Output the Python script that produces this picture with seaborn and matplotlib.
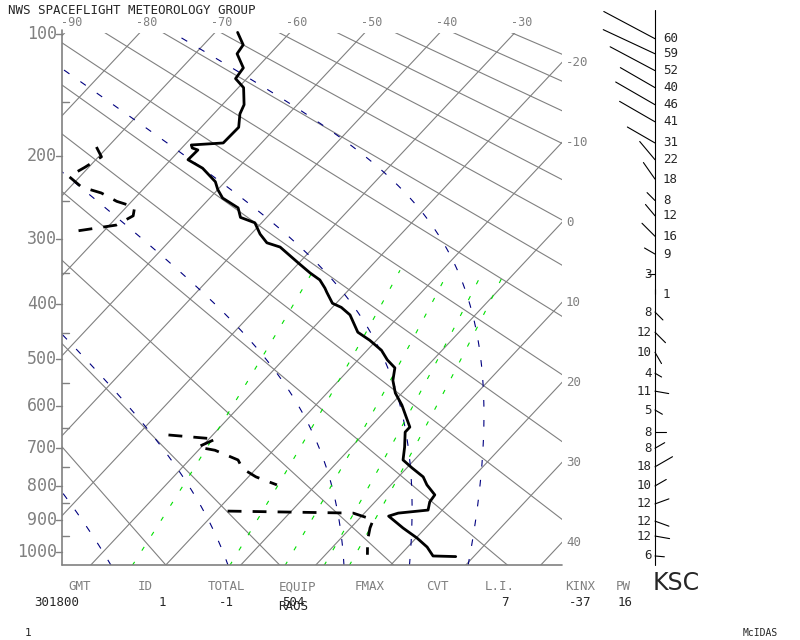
import numpy as np
import pandas as pd
import matplotlib
matplotlib.use("Agg")
import matplotlib.pyplot as plt
import seaborn as sns

sns.set_style("white")
plt.rcParams["font.family"] = ["DejaVu Sans Mono", "DejaVu Sans"]

# sounding (hPa, degC)
temp_p = [99, 107, 113, 123, 131, 138, 152, 160, 172, 187, 189, 192, 194, 204, 213, 228, 237, 247,
          259, 271, 278, 293, 305, 311, 334, 349, 360, 373, 380, 398, 405, 418, 449, 464, 483, 502,
          518, 544, 571, 598, 649, 661, 698, 731, 752, 776, 798, 826, 846, 870, 879, 888, 909, 924,
          955, 984, 1013, 1015]
temp_t = [-67.0, -64.7, -64.4, -61.8, -61.5, -59.3, -57.1, -56.5, -55.0, -55.1, -59.1, -58.6, -57.6,
          -57.7, -54.7, -51.3, -50.0, -48.3, -45.0, -43.5, -40.9, -38.8, -36.8, -34.5, -30.1, -27.3,
          -25.1, -23.4, -22.6, -20.5, -18.8, -16.7, -13.5, -10.9, -8.1, -6.1, -4.1, -2.8, -0.9, 1.5,
          5.3, 5.3, 7.1, 8.5, 10.7, 13.3, 14.8, 17.1, 17.3, 18.1, 14.5, 13.6, 15.6, 17.0, 20.1, 22.6,
          24.5, 27.6]
dew_p = [191, 201, 212, 222, 234, 241, 251, 258, 269, 281, 285, 289, np.nan,
         668, 678, 698, 706, 731, 754, 776, 798, np.nan,
         873, 879, 899, 924, 962, 1009]
dew_t = [-71.5, -69.6, -70.5, -71.5, -68.5, -65.1, -62.0, -58.9, -58.0, -59.1, -61.4, -63.7, np.nan,
         -25.9, -19.1, -20.5, -17.8, -13.5, -11.8, -9.0, -5.2, np.nan,
         -8.5, 8.5, 12.0, 12.6, 13.8, 15.6]

# winds
wind_p = [103, 113, 125, 138, 152, 167, 187, 204, 225, 250, 269, 296, 321, 351, 383,
          413, 449, 487, 529, 567, 609, 661, 701, 749, 801, 852, 903, 949, 1013]
wind_spd = [60, 59, 52, 40, 46, 41, 31, 22, 18, 8, 12, 16, 9, 3, 1,
            8, 12, 10, 4, 11, 5, 8, 8, 18, 10, 12, 12, 12, 6]
wind_dir = [298, 295, 298, 300, 300, 300, 300, 320, 325, 315, 320, 315, 300, 270, 0,
            135, 135, 150, 120, 100, 120, 90, 60, 60, 60, 70, 110, 100, 95]
wind_side = ["R"] * 13 + ["L", "R"] + ["L"] * 14

isotherms = np.arange(-150, 60, 10)
dry_theta = np.arange(200, 560, 15)
moist_t0 = [-20, -4, 12, 21, 29]
mix_ratio = [1.2, 3.3, 5.6, 8, 10]

p_labels = [100, 200, 300, 400, 500, 600, 700, 800, 900, 1000]
p_minor = [150, 250, 350, 450, 550, 650, 750, 850, 950]
top_t_labels = [-90, -80, -70, -60, -50, -40, -30]
right_t_labels = [-20, -10, 0, 10, 20, 30, 40]
stat_names = ["GMT", "ID", "TOTAL", "EQUIP", "FMAX", "CVT", "L.I.", "KINX", "PW"]
stat_x = [80, 145, 226, 297, 370, 437, 500, 580, 623]
stat_vals = [("301800", 57), ("1", 162), ("-1", 226), ("504", 293), ("RAOS", 293),
             ("7", 505), ("-37", 580), ("16", 625)]

KAP = 0.286
X_LEFT, X_RIGHT, Y_TOP, Y_BOT = 62, 562, 33, 565


def py(p):
    p = np.asarray(p, dtype=float)
    return 34 + 518 * (p ** KAP - 100 ** KAP) / (1000 ** KAP - 100 ** KAP)


def px(t, p):
    return 253 + 7.5 * np.asarray(t, dtype=float) + 0.9375 * (552 - py(p))


def moist_adiabat(t0, p_levels):
    Rd, Cp, Lv, eps = 287.0, 1004.0, 2.5e6, 0.622
    T = t0 + 273.15
    out = [T]
    for i in range(1, len(p_levels)):
        p = p_levels[i - 1]
        es = 6.112 * np.exp(17.67 * (T - 273.15) / (T - 29.65))
        rs = eps * es / (p - es)
        dTdp = (Rd * T + Lv * rs) / (p * (Cp + Lv * Lv * rs * eps / (Rd * T * T)))
        T = T + dTdp * (p_levels[i] - p)
        out.append(T)
    return np.array(out) - 273.15


fig = plt.figure(figsize=(8, 6.4), dpi=100)
ax = fig.add_axes([0, 0, 1, 1])
clip = plt.Rectangle((X_LEFT, Y_TOP), X_RIGHT - X_LEFT, Y_BOT - Y_TOP, transform=ax.transData,
                     fill=False, visible=False)
ax.add_patch(clip)

GRAY = "#808080"
pp = np.linspace(1045, 95, 200)
for t in isotherms:
    ln, = ax.plot(px(np.full_like(pp, t), pp), py(pp), color=GRAY, lw=0.8)
    ln.set_clip_path(clip)
for th in dry_theta:
    tt = th * (pp / 1000) ** KAP - 273.15
    ln, = ax.plot(px(tt, pp), py(pp), color=GRAY, lw=0.8)
    ln.set_clip_path(clip)

pm = np.linspace(1045, 100, 400)
for t0 in moist_t0:
    start = moist_adiabat(t0, np.linspace(1000, 1045, 50))[-1]
    tt = moist_adiabat(start, pm)
    ln, = ax.plot(px(tt, pm), py(pm), color="#000080", lw=0.8, dashes=(6, 12))
    ln.set_clip_path(clip)

pw = np.linspace(1045, 345, 100)
for w in mix_ratio:
    e = w * pw / (622 + w)
    a = np.log(e / 6.112)
    td = 243.5 * a / (17.67 - a)
    ln, = ax.plot(px(td, pw), py(pw), color="#00e000", lw=0.8, dashes=(4, 12))
    ln.set_clip_path(clip)

# frame
ax.plot([X_LEFT, X_LEFT], [Y_TOP - 3, Y_BOT], color=GRAY, lw=1.2)
ax.plot([X_LEFT, X_RIGHT], [Y_BOT, Y_BOT], color=GRAY, lw=1.2)
for p in p_labels:
    ax.plot([56, X_LEFT], [py(p), py(p)], color=GRAY, lw=1.0)
    ax.text(57, py(p), str(p), ha="right", va="center", color=GRAY, fontsize=12)
for p in p_minor:
    ax.plot([X_LEFT, X_LEFT + 7], [py(p), py(p)], color=GRAY, lw=1.0)
for t in top_t_labels:
    ax.text(px(t, 100) + 8, 23, str(t), ha="center", va="center", color=GRAY, fontsize=8.5)
for t in right_t_labels:
    ax.text(566, 222 + 8 * t, str(t), ha="left", va="center", color=GRAY, fontsize=9)

# profiles
prof = pd.DataFrame({"x": px(temp_t, temp_p), "y": py(temp_p)})
sns.lineplot(data=prof, x="x", y="y", sort=False, color="black", lw=2, ax=ax, estimator=None)
ax.plot(px(dew_t, dew_p), py(dew_p), color="black", lw=2, dashes=(5, 4))

# winds
XW = 655
ax.plot([XW, XW], [10, Y_BOT], color="black", lw=0.8)
for p, s, d, side in zip(wind_p, wind_spd, wind_dir, wind_side):
    y0 = py(p)
    L = 0.9 * s + 4
    rad = np.deg2rad(d)
    ax.plot([XW, XW + L * np.sin(rad)], [y0, y0 - L * np.cos(rad)], color="black", lw=0.8)
    if side == "R":
        ax.text(XW + 8, y0, str(s), ha="left", va="center", fontsize=9)
    else:
        ax.text(XW - 3, y0, str(s), ha="right", va="center", fontsize=9)

# header / footer text
ax.text(8, 11, "NWS SPACEFLIGHT METEOROLOGY GROUP", ha="left", va="center", fontsize=9)
for name, x in zip(stat_names, stat_x):
    ax.text(x, 587, name, ha="center", va="center", color=GRAY, fontsize=9)
for val, x in stat_vals:
    ax.text(x, 603 if val != "RAOS" else 606, val, ha="center", va="center", fontsize=9)
ax.text(653, 583, "KSC", ha="left", va="center", fontsize=17, family="DejaVu Sans")
ax.text(28, 633, "1", ha="center", va="center", fontsize=8)
ax.text(778, 633, "McIDAS", ha="right", va="center", fontsize=7)

ax.set_xlim(0, 800)
ax.set_ylim(640, 0)
ax.axis("off")
fig.savefig("out.png", dpi=100, facecolor="white")
